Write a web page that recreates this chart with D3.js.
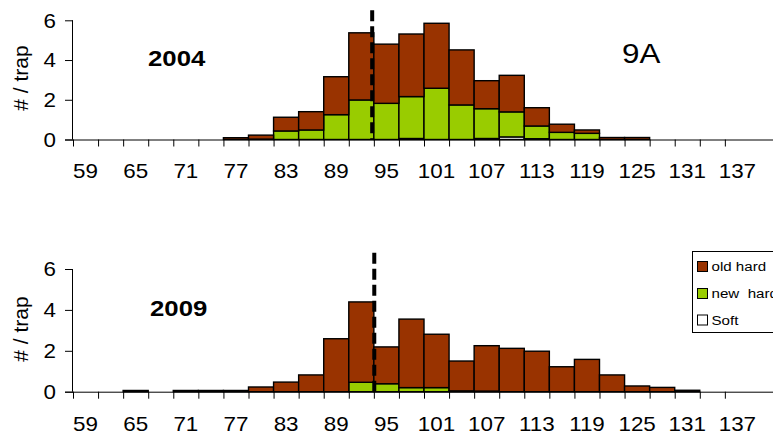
<!DOCTYPE html>
<html><head><meta charset="utf-8">
<script src="https://cdn.jsdelivr.net/npm/d3@7"></script>
<style>
html,body{margin:0;padding:0;background:#fff;}
svg{display:block;font-family:Arial,"Liberation Sans",sans-serif;}
</style></head>
<body><svg id="c" width="773" height="434"></svg>
<script>
// ---- data ----
const bins = [59,62,65,68,71,74,77,80,83,86,89,92,95,98,101,104,107,110,113,116,119,122,125,128,131,134,137,140];
const binWidth = 3;
const yTicks = [0,2,4,6];
const seriesNames = ["old hard","new  hard","Soft"];
const years = ["2004","2009"];
const old2004  = [0,0,0,0,0,0,0.09,0.20,0.69,0.92,1.91,3.38,2.98,3.15,3.27,2.77,1.41,1.84,0.92,0.41,0.17,0.10,0.10,0,0,0,0,0];
const new2004  = [0,0,0,0,0,0,0,0.02,0.43,0.48,1.25,1.99,1.82,2.11,2.58,1.74,1.50,1.26,0.64,0.36,0.31,0,0,0,0,0,0,0];
const soft2004 = [0,0,0,0,0,0,0,0,0,0,0,0,0,0.05,0,0,0.05,0.13,0.04,0,0,0,0,0,0,0,0,0];
const old2009  = [0,0,0.06,0,0.06,0.06,0.06,0.23,0.47,0.82,2.59,3.93,1.80,3.35,2.61,1.46,2.22,2.12,1.98,1.22,1.58,0.82,0.28,0.21,0.07,0,0,0];
const new2009  = [0,0,0,0,0,0,0,0,0,0,0,0.46,0.39,0.20,0.20,0.04,0.03,0,0,0,0,0,0,0,0,0,0,0];
const soft2009 = [0,0,0,0,0,0,0,0,0,0,0,0,0,0,0,0,0,0,0,0,0,0,0,0,0,0,0,0];
const cutLine = [93.3, 93.55];
const cutTop = [6.5, 6.8];
const panelNote = ["9A", ""];

// ---- layout ----
const colors = {"old hard":"#993300","new  hard":"#99CC00","Soft":"#FFFFFF"};
const svg = d3.select("#c");
const SX = 1.12; // horizontal text stretch
function txt(g, x, y, s, opts={}) {
  const t = g.append("text")
    .attr("transform", `translate(${x},${y}) scale(${SX},1)`)
    .attr("font-size", opts.size||20)
    .attr("font-weight", opts.weight||"normal")
    .attr("text-anchor", opts.anchor||"start")
    .attr("fill","#000")
    .text(s);
  if (opts.dy) t.attr("dy", opts.dy);
  if (opts.pre) t.style("white-space","pre");
  return t;
}

const xLin = d3.scaleLinear().domain([bins[0]-binWidth/2, bins[bins.length-1]+binWidth/2]).range([73, 775]);
const panels = [
  {y0:139.5, y6:20.3, year:years[0], data:[soft2004,new2004,old2004], yearX:148, yearY:66, labY:178.3, ylabY:78},
  {y0:391.7, y6:269,  year:years[1], data:[soft2009,new2009,old2009], yearX:150, yearY:316, labY:430.5, ylabY:329}
];

panels.forEach((p, pi) => {
  const g = svg.append("g");
  const y = d3.scaleLinear().domain([0,6]).range([p.y0, p.y6]);
  // stacked bars (soft bottom, new hard, old hard top)
  const rows = bins.map((b,i)=>({bin:b, "Soft":p.data[0][i], "new  hard":p.data[1][i], "old hard":p.data[2][i]}));
  const stack = d3.stack().keys(["Soft","new  hard","old hard"])(rows);
  stack.forEach(layer => {
    g.append("g").selectAll("rect").data(layer.filter(d => d[1]-d[0] > 0)).join("rect")
      .attr("x", d => xLin(d.data.bin - binWidth/2))
      .attr("width", d => xLin(d.data.bin + binWidth/2) - xLin(d.data.bin - binWidth/2))
      .attr("y", d => y(d[1]))
      .attr("height", d => y(d[0]) - y(d[1]))
      .attr("fill", colors[layer.key])
      .attr("stroke", "#000").attr("stroke-width", 1.4);
  });
  // y axis
  const ya = g.append("g").attr("transform","translate(73,0)")
    .call(d3.axisLeft(y).tickValues(yTicks).tickSize(8).tickFormat(""));
  ya.select(".domain").attr("stroke","#000").attr("d", `M-0.5,${p.y6}V${p.y0}`);
  ya.selectAll("line").attr("stroke","#000");
  yTicks.forEach(v => txt(g, 56, y(v), String(v), {anchor:"end", dy:"0.36em", size:20}));
  // x axis
  const boundaries = bins.slice(0, 27).map(b => b - binWidth/2);
  const xa = g.append("g").attr("transform",`translate(0,${p.y0})`)
    .call(d3.axisBottom(xLin).tickValues(boundaries).tickSize(7).tickFormat(""));
  xa.select(".domain").attr("stroke","#000").attr("d","M65,0.5H773");
  xa.selectAll("line").attr("stroke","#000");
  bins.forEach((b,i) => { if (i % 2 === 0 && i < 27) txt(g, xLin(b), p.labY, String(b), {anchor:"middle", size:20}); });
  // y label
  g.append("text").attr("transform", `translate(28,${p.ylabY}) rotate(-90)`)
    .attr("font-size", 21).attr("text-anchor","middle").text("# / trap");
  // year
  txt(g, p.yearX, p.yearY, p.year, {size:23, weight:"bold"});
  // cutoff dashed line
  g.append("line").attr("x1", xLin(cutLine[pi])).attr("x2", xLin(cutLine[pi]))
    .attr("y1", y(cutTop[pi])).attr("y2", y(0))
    .attr("stroke","#000").attr("stroke-width",4).attr("stroke-dasharray","11,5");
  if (panelNote[pi]) txt(g, 622, 62.7, panelNote[pi], {size:28});
});

// legend
const lg = svg.append("g");
lg.append("rect").attr("x",692.5).attr("y",251.5).attr("width",100).attr("height",81)
  .attr("fill","#fff").attr("stroke","#000").attr("stroke-width",1);
const legY = [261.5, 288.5, 315];
seriesNames.forEach((n,i) => {
  lg.append("rect").attr("x",697.5).attr("y",legY[i]).attr("width",10).attr("height",10)
    .attr("fill",colors[n]).attr("stroke","#000").attr("stroke-width",1);
  txt(lg, 711.5, legY[i]+9.5, n, {size:13.5, pre:true});
});
</script></body></html>
